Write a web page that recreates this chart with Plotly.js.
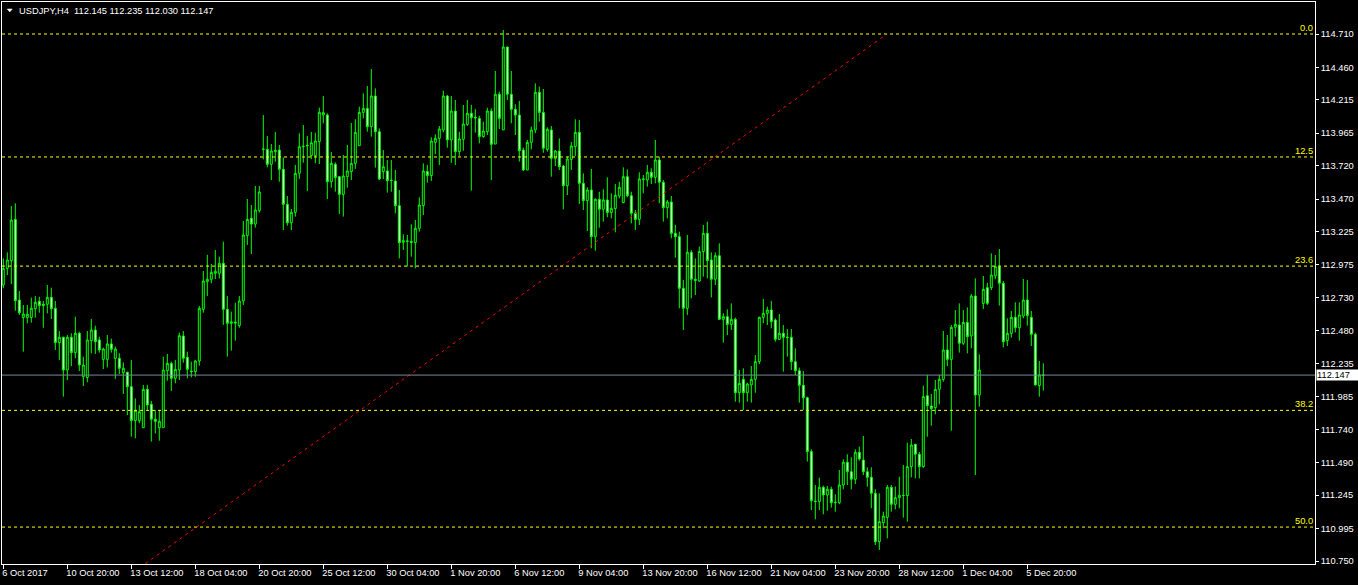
<!DOCTYPE html>
<html><head><meta charset="utf-8">
<script src="https://cdn.plot.ly/plotly-3.0.1.min.js"></script>
<style>html,body{margin:0;padding:0;background:#000;overflow:hidden}#chart{width:1358px;height:585px}</style>
</head><body><div id="chart"></div>
<script>
const symbolTitle = 'USDJPY,H4';
const lastBarOHLC = ['112.145', '112.235', '112.030', '112.147'];

const openP = [112.824,112.949,113.007,113.317,112.711,112.579,112.579,112.579,112.646,112.701,
112.679,112.679,112.731,112.649,112.391,112.431,112.185,112.431,112.316,112.461,
112.135,112.128,112.406,112.486,112.411,112.265,112.265,112.381,112.273,112.273,
112.165,112.168,112.060,111.805,111.805,111.752,112.040,111.927,111.815,111.752,
111.752,112.180,112.235,112.123,112.185,112.441,112.281,112.178,112.173,112.253,
112.641,112.849,112.867,112.912,112.912,112.987,112.641,112.536,112.546,112.518,
112.704,113.195,113.325,113.282,113.383,113.843,113.843,113.731,113.826,113.838,
113.693,113.430,113.292,113.370,113.663,113.863,113.868,113.796,113.796,113.901,
114.101,114.101,113.600,113.731,113.638,113.505,113.638,113.676,113.738,113.871,
114.121,114.151,114.014,114.244,113.976,113.676,113.681,113.611,113.606,113.420,
113.145,113.155,113.150,113.142,113.250,113.420,113.676,113.646,113.896,113.926,
113.989,114.244,113.914,114.131,113.826,113.919,114.031,114.114,114.084,114.076,
113.939,113.976,114.131,113.883,114.257,113.989,114.612,114.257,114.144,114.101,
113.838,113.688,113.896,113.989,114.272,114.121,113.843,113.989,113.776,113.831,
113.718,113.570,113.768,113.864,113.971,113.588,113.458,113.538,113.187,113.468,
113.393,113.463,113.368,113.398,113.493,113.443,113.638,113.495,113.363,113.317,
113.621,113.613,113.671,113.633,113.763,113.596,113.405,113.448,113.212,113.187,
112.799,112.649,113.070,112.867,112.854,113.075,113.212,113.012,112.867,113.044,
112.566,112.586,112.528,112.566,112.015,112.115,112.015,112.073,112.115,112.248,
112.581,112.611,112.636,112.561,112.416,112.461,112.433,112.431,112.248,112.180,
112.070,111.977,111.572,111.201,111.196,111.304,111.246,111.289,111.191,111.188,
111.321,111.492,111.421,111.364,111.567,111.509,111.421,111.379,111.259,110.895,
111.038,111.078,111.304,111.176,111.226,111.244,111.241,111.459,111.627,111.552,
111.459,111.992,111.915,111.902,112.040,112.115,112.336,112.265,112.506,112.523,
112.386,112.543,112.441,112.741,111.997,112.686,112.804,112.804,112.892,112.962,
112.837,112.406,112.461,112.581,112.503,112.591,112.711,112.581,112.453,112.068,
112.145];

const highP = [113.024,113.069,113.418,113.438,112.779,112.674,112.674,112.729,112.741,112.736,
112.704,112.824,112.804,112.704,112.478,112.436,112.448,112.461,112.586,112.473,
112.285,112.478,112.569,112.518,112.436,112.353,112.448,112.421,112.361,112.311,
112.243,112.173,112.260,111.972,111.922,112.073,112.073,111.952,111.885,111.885,
112.285,112.306,112.248,112.260,112.466,112.478,112.323,112.248,112.260,112.666,
112.929,113.050,112.982,113.087,113.037,113.150,112.741,112.624,112.691,112.741,
113.305,113.470,113.425,113.568,113.568,114.101,113.944,113.883,113.974,113.876,
113.783,113.493,113.395,113.726,113.964,114.026,113.944,113.974,113.969,114.157,
114.244,114.114,113.823,113.746,113.643,113.801,113.876,114.041,114.069,114.164,
114.264,114.319,114.447,114.302,114.001,113.838,113.763,113.763,113.688,113.538,
113.205,113.200,113.280,113.312,113.483,113.738,113.726,113.934,113.956,114.019,
114.284,114.252,114.244,114.214,113.976,114.177,114.214,114.177,114.146,114.096,
114.051,114.156,114.151,114.432,114.277,114.740,114.615,114.432,114.182,114.207,
113.856,113.914,114.014,114.339,114.314,114.297,114.009,114.019,113.838,113.926,
113.726,113.788,113.899,114.069,114.064,113.663,113.558,113.696,113.475,113.525,
113.543,113.633,113.513,113.583,113.600,113.708,113.693,113.525,113.388,113.671,
113.651,113.726,113.701,113.914,113.788,113.613,113.463,113.493,113.275,113.225,
112.862,113.200,113.087,113.024,113.112,113.275,113.300,113.069,113.069,113.137,
112.611,112.641,112.686,112.579,112.185,112.198,112.090,112.215,112.298,112.586,
112.719,112.661,112.704,112.574,112.606,112.523,112.493,112.493,112.348,112.203,
112.178,111.985,111.589,111.321,111.376,111.316,111.314,111.309,111.251,111.434,
111.514,111.552,111.529,111.589,111.609,111.689,111.454,111.454,111.289,111.259,
111.121,111.321,111.321,111.309,111.384,111.471,111.639,111.667,111.630,111.569,
112.068,112.148,112.005,112.110,112.148,112.478,112.448,112.523,112.636,112.686,
112.636,112.656,112.756,112.874,112.303,112.892,112.841,113.062,113.049,113.094,
112.854,112.574,112.629,112.694,112.694,112.869,112.862,112.629,112.466,112.253,
112.235];

const lowP = [112.799,112.899,112.832,112.631,112.599,112.323,112.536,112.541,112.579,112.616,
112.503,112.611,112.569,112.336,112.260,111.985,112.110,112.215,112.273,112.178,
112.065,112.093,112.311,112.306,112.316,112.193,112.205,112.316,112.118,112.155,
112.005,111.847,111.684,111.672,111.785,111.752,111.885,111.647,111.709,111.654,
111.752,112.105,112.028,112.085,112.110,112.240,112.123,112.130,112.135,112.218,
112.616,112.741,112.837,112.869,112.874,112.524,112.286,112.331,112.406,112.503,
112.674,113.125,113.057,113.255,113.368,113.768,113.708,113.613,113.751,113.600,
113.237,113.270,113.237,113.338,113.621,113.743,113.530,113.771,113.738,113.733,
114.039,113.470,113.555,113.525,113.358,113.338,113.555,113.613,113.696,113.871,
114.076,113.976,113.939,113.706,113.613,113.620,113.518,113.525,113.363,113.024,
113.087,112.962,113.037,112.949,113.225,113.350,113.593,113.606,113.806,113.726,
113.971,113.856,113.743,113.726,113.793,113.833,114.019,113.533,113.969,113.888,
113.931,113.951,113.613,113.883,113.996,113.989,114.214,114.039,113.951,113.751,
113.681,113.688,113.843,113.964,114.051,113.818,113.826,113.638,113.718,113.688,
113.393,113.500,113.688,113.793,113.433,113.388,113.230,113.100,113.082,113.255,
113.300,113.333,113.325,113.220,113.475,113.438,113.483,113.287,113.237,113.275,
113.513,113.563,113.583,113.588,113.438,113.300,113.325,113.175,113.029,112.649,
112.486,112.599,112.724,112.749,112.849,112.887,112.874,112.731,112.824,112.561,
112.391,112.448,112.486,111.947,111.940,111.885,111.947,111.940,112.015,112.230,
112.536,112.523,112.498,112.398,112.411,112.173,112.286,112.185,112.148,111.940,
111.885,111.497,111.133,111.063,111.133,111.101,111.128,111.151,111.121,111.178,
111.289,111.321,111.289,111.329,111.504,111.396,111.309,111.146,110.870,110.833,
110.996,110.920,111.121,111.138,111.146,111.076,111.046,111.379,111.371,111.371,
111.451,111.684,111.767,111.852,111.927,112.098,112.215,111.729,112.436,112.316,
112.373,112.311,112.348,111.396,111.910,112.644,112.674,112.786,112.867,112.669,
112.356,112.366,112.428,112.468,112.406,112.574,112.518,112.366,112.068,111.985,
112.030];

const closeP = [112.949,113.012,113.312,112.706,112.616,112.606,112.604,112.649,112.694,112.669,
112.671,112.731,112.646,112.391,112.431,112.185,112.431,112.316,112.461,112.223,
112.223,112.411,112.486,112.398,112.336,112.343,112.381,112.341,112.343,112.198,
112.198,112.060,111.805,111.880,111.872,112.040,111.922,111.815,111.800,111.800,
112.185,112.235,112.123,112.190,112.443,112.273,112.190,112.173,112.253,112.649,
112.854,112.867,112.919,112.927,112.987,112.641,112.536,112.548,112.538,112.704,
113.200,113.317,113.282,113.388,113.523,113.845,113.731,113.831,113.836,113.693,
113.430,113.292,113.370,113.663,113.863,113.866,113.873,113.893,113.906,114.122,
114.119,113.600,113.738,113.631,113.505,113.643,113.681,113.738,113.971,114.121,
114.151,114.014,114.244,113.976,113.620,113.713,113.608,113.609,113.420,113.142,
113.157,113.153,113.145,113.250,113.425,113.681,113.646,113.906,113.926,113.996,
114.244,113.914,114.131,113.826,113.921,114.034,114.114,114.081,114.079,113.939,
113.981,114.131,113.881,114.257,114.076,114.612,114.257,114.144,114.101,113.833,
113.688,113.896,113.989,114.272,114.121,113.851,113.994,113.776,113.831,113.713,
113.570,113.771,113.869,113.971,113.588,113.458,113.538,113.187,113.468,113.393,
113.463,113.368,113.400,113.498,113.558,113.638,113.495,113.363,113.317,113.621,
113.618,113.671,113.633,113.763,113.596,113.405,113.448,113.212,113.187,112.799,
112.649,113.070,112.867,112.859,113.075,113.212,113.007,112.867,113.044,112.566,
112.586,112.528,112.566,112.015,112.085,112.015,112.080,112.115,112.248,112.581,
112.611,112.636,112.549,112.416,112.461,112.431,112.430,112.248,112.180,112.070,
111.977,111.572,111.203,111.198,111.304,111.246,111.289,111.188,111.189,111.321,
111.492,111.421,111.364,111.567,111.516,111.421,111.379,111.259,110.895,111.046,
111.088,111.304,111.176,111.226,111.244,111.242,111.459,111.622,111.552,111.459,
111.985,111.917,111.895,112.040,112.115,112.336,112.265,112.506,112.528,112.386,
112.543,112.436,112.741,111.997,112.185,112.791,112.686,112.899,112.962,112.837,
112.398,112.461,112.581,112.503,112.599,112.711,112.594,112.453,112.073,112.148,
112.147];

const timeLabels = ['6 Oct 2017','10 Oct 20:00','13 Oct 12:00','18 Oct 04:00','20 Oct 20:00',
'25 Oct 12:00','30 Oct 04:00','1 Nov 20:00','6 Nov 12:00','9 Nov 04:00','13 Nov 20:00',
'16 Nov 12:00','21 Nov 04:00','23 Nov 20:00','28 Nov 12:00','1 Dec 04:00','5 Dec 20:00'];
const barsPerTimeLabel = 16;

const priceTicks = [114.710,114.460,114.215,113.965,113.720,113.470,113.225,112.975,112.730,
112.480,112.235,111.985,111.740,111.490,111.245,110.995,110.750];

const fibLevels = ['0.0','12.5','23.6','38.2','50.0'];
const fibPrices = [114.710,113.786,112.966,111.882,111.005];

const bidPrice = 112.147;

const trendBars = [34.1, 220.9];
const trendPrices = [110.700, 114.710];

// ---------------------------------------------------------------
const FONT = '"Liberation Sans", Arial, sans-serif';
const FS = 9.3;
const bars = openP.map((_, i) => i);
const tickBars = timeLabels.map((_, i) => i * barsPerTimeLabel);

const traces = [
  {
    type: 'candlestick', x: bars, open: openP, high: highP, low: lowP, close: closeP,
    increasing: { line: { color: '#00ff00', width: 1 }, fillcolor: '#000000' },
    decreasing: { line: { color: '#00ff00', width: 1 }, fillcolor: '#ffffff' },
    whiskerwidth: 0, hoverinfo: 'skip', showlegend: false
  },
  {
    type: 'scatter', mode: 'lines', x: trendBars, y: trendPrices,
    line: { color: '#ff0000', width: 1, dash: '3px,4px' }, hoverinfo: 'skip', showlegend: false
  }
];

const shapes = [];
fibPrices.forEach(p => shapes.push({
  type: 'line', xref: 'paper', x0: 0, x1: 1, yref: 'y', y0: p, y1: p,
  line: { color: '#ffff00', width: 1, dash: '3px,3px' }
}));
shapes.push({
  type: 'line', xref: 'paper', x0: 0, x1: 1, yref: 'y', y0: bidPrice, y1: bidPrice,
  line: { color: '#778899', width: 1 }
});
// small menu triangle at top-left
shapes.push({
  type: 'path', xref: 'paper', yref: 'paper',
  path: 'M 0.0040 0.9876 L 0.0078 0.9876 L 0.0059 0.9823 Z',
  fillcolor: '#ffffff', line: { color: '#ffffff', width: 0.5 }
});

const annotations = [];
fibLevels.forEach((t, i) => annotations.push({
  text: t, xref: 'paper', x: 1, xanchor: 'right', xshift: -1,
  yref: 'y', y: fibPrices[i], yanchor: 'bottom', yshift: 0,
  showarrow: false, borderpad: 0, font: { family: FONT, size: FS, color: '#ffff00' }
}));
annotations.push({
  text: bidPrice.toFixed(3), xref: 'paper', x: 1, xanchor: 'left', xshift: 1,
  yref: 'y', y: bidPrice, yanchor: 'middle',
  showarrow: false, bgcolor: '#ffffff', borderpad: 0, width: 41, height: 10, align: 'left',
  font: { family: FONT, size: FS, color: '#000000' }
});
annotations.push({
  text: symbolTitle + '\u00a0 ' + lastBarOHLC.join(' '),
  xref: 'paper', x: 0, xanchor: 'left', xshift: 16,
  yref: 'paper', y: 1, yanchor: 'middle', yshift: -8.7,
  showarrow: false, borderpad: 0, font: { family: FONT, size: FS, color: '#ffffff' }
});

const layout = {
  width: 1358, height: 585,
  margin: { l: 2, r: 43, t: 2, b: 21, pad: 0 },
  paper_bgcolor: '#000000', plot_bgcolor: '#000000',
  showlegend: false,
  xaxis: {
    type: 'linear', range: [-0.325, 327.925], rangeslider: { visible: false },
    showgrid: false, zeroline: false, showline: true, linecolor: '#ffffff', linewidth: 1, mirror: true,
    ticks: 'outside', ticklen: 4, tickwidth: 1, tickcolor: '#ffffff',
    tickmode: 'array', tickvals: tickBars, ticktext: timeLabels,
    ticklabelposition: 'outside right', tickangle: 0, ticklabelshift: -2,
    tickfont: { family: FONT, size: FS, color: '#ffffff' }, fixedrange: true
  },
  yaxis: {
    side: 'right', range: [110.7275, 114.9505],
    showgrid: false, zeroline: false, showline: true, linecolor: '#ffffff', linewidth: 1, mirror: true,
    ticks: 'outside', ticklen: 3, tickwidth: 1, tickcolor: '#ffffff',
    tickmode: 'array', tickvals: priceTicks, ticktext: priceTicks.map(v => v.toFixed(3)),
    tickfont: { family: FONT, size: FS, color: '#ffffff' }, fixedrange: true
  },
  shapes: shapes,
  annotations: annotations
};

Plotly.newPlot('chart', traces, layout, { staticPlot: true, displayModeBar: false });
</script>
</body></html>
